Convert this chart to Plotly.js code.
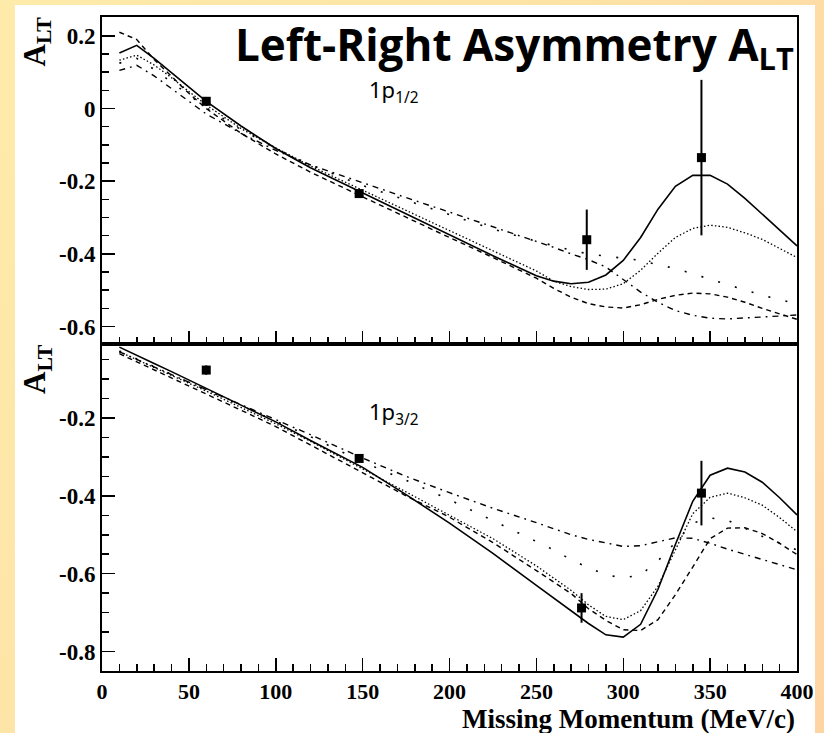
<!DOCTYPE html>
<html>
<head>
<meta charset="utf-8">
<script src="https://cdn.plot.ly/plotly-3.0.1.min.js"></script>
<style>
  html, body { margin:0; padding:0; width:824px; height:733px; overflow:hidden;
    background: linear-gradient(120deg, #FEEBAA 0%, #FDE3A6 45%, #FED4A4 100%); }
  #card { position:absolute; left:15px; top:5px; width:800px; height:728px; background:#ffffff; }
  #plot { position:absolute; left:0; top:0; width:824px; height:733px; }
</style>
</head>
<body>
<div id="card"></div>
<div id="plot"></div>
<script>
// ---- data ----
var momentum = [10,20,30,40,50,60,80,100,120,150,175,200,225,250,260,270,280,290,300,310,320,330,340,350,360,370,380,390,400];

// 1p1/2 (top panel)
var p12Solid   = [0.153,0.174,0.138,0.098,0.058,0.020,-0.048,-0.110,-0.163,-0.232,-0.290,-0.348,-0.405,-0.460,-0.475,-0.482,-0.478,-0.458,-0.418,-0.355,-0.277,-0.214,-0.184,-0.184,-0.208,-0.247,-0.290,-0.334,-0.378];
var p12Dotted  = [0.133,0.147,0.120,0.085,0.047,0.010,-0.055,-0.108,-0.158,-0.225,-0.280,-0.336,-0.393,-0.447,-0.475,-0.490,-0.498,-0.497,-0.482,-0.445,-0.398,-0.355,-0.330,-0.321,-0.327,-0.342,-0.360,-0.385,-0.410];
var p12Sparse  = [0.125,0.138,0.108,0.072,0.036,0.002,-0.058,-0.110,-0.155,-0.212,-0.252,-0.293,-0.332,-0.365,-0.378,-0.390,-0.400,-0.406,-0.412,-0.418,-0.430,-0.440,-0.455,-0.470,-0.485,-0.500,-0.514,-0.526,-0.537];
var p12Dashed  = [0.210,0.190,0.135,0.088,0.042,0.000,-0.068,-0.125,-0.175,-0.243,-0.300,-0.355,-0.410,-0.467,-0.495,-0.519,-0.537,-0.546,-0.549,-0.540,-0.525,-0.514,-0.508,-0.510,-0.519,-0.533,-0.550,-0.565,-0.580];
var p12DashDot = [0.105,0.119,0.090,0.055,0.020,-0.015,-0.068,-0.115,-0.155,-0.205,-0.245,-0.285,-0.325,-0.365,-0.382,-0.400,-0.416,-0.436,-0.470,-0.505,-0.533,-0.556,-0.569,-0.577,-0.579,-0.577,-0.574,-0.571,-0.568];
var p12DataX   = [60,148,279,345];
var p12DataY   = [0.020,-0.234,-0.361,-0.135];
var p12DataErr = [0.012,0.012,0.083,0.214];

// 1p3/2 (bottom panel)
var p32Solid   = [-0.018,-0.040,-0.060,-0.081,-0.102,-0.124,-0.167,-0.210,-0.258,-0.327,-0.397,-0.470,-0.548,-0.630,-0.662,-0.695,-0.728,-0.757,-0.763,-0.730,-0.640,-0.525,-0.414,-0.347,-0.329,-0.339,-0.365,-0.405,-0.449];
var p32Dotted  = [-0.030,-0.050,-0.070,-0.090,-0.110,-0.131,-0.173,-0.215,-0.260,-0.330,-0.390,-0.450,-0.510,-0.580,-0.612,-0.643,-0.680,-0.710,-0.718,-0.695,-0.632,-0.539,-0.446,-0.404,-0.393,-0.405,-0.424,-0.456,-0.492];
var p32Sparse  = [-0.028,-0.048,-0.068,-0.088,-0.107,-0.127,-0.167,-0.207,-0.248,-0.313,-0.360,-0.410,-0.463,-0.517,-0.539,-0.564,-0.585,-0.603,-0.611,-0.603,-0.567,-0.520,-0.470,-0.457,-0.463,-0.483,-0.504,-0.521,-0.539];
var p32Dashed  = [-0.035,-0.056,-0.077,-0.098,-0.118,-0.139,-0.180,-0.222,-0.270,-0.342,-0.400,-0.455,-0.520,-0.592,-0.622,-0.651,-0.690,-0.720,-0.744,-0.746,-0.718,-0.654,-0.583,-0.510,-0.483,-0.482,-0.497,-0.522,-0.551];
var p32DashDot = [-0.030,-0.050,-0.070,-0.090,-0.108,-0.127,-0.165,-0.203,-0.243,-0.303,-0.350,-0.392,-0.432,-0.469,-0.485,-0.500,-0.512,-0.522,-0.530,-0.528,-0.518,-0.508,-0.509,-0.522,-0.537,-0.550,-0.564,-0.577,-0.590];
var p32DataX   = [60,148,276,345];
var p32DataY   = [-0.077,-0.304,-0.688,-0.393];
var p32DataErr = [0.012,0.010,0.038,0.083];

// tick labels
var xTickVals = [0,50,100,150,200,250,300,350,400];
var xTickText = ['0','50','100','150','200','250','300','350','400'];
var topTickVals = [0.2,0,-0.2,-0.4,-0.6];
var topTickText = ['0.2','0','-0.2','-0.4','-0.6'];
var botTickVals = [-0.2,-0.4,-0.6,-0.8];
var botTickText = ['-0.2','-0.4','-0.6','-0.8'];

// ---- traces ----
var styles = [
  {dash:'solid',             width:1.6},
  {dash:'1.5px,2.2px',       width:1.3},
  {dash:'2px,15.5px',        width:1.6},
  {dash:'5px,4px',           width:1.4},
  {dash:'6px,5px,1.8px,5px', width:1.4}
];
var topSeries = [p12Solid,p12Dotted,p12Sparse,p12Dashed,p12DashDot];
var botSeries = [p32Solid,p32Dotted,p32Sparse,p32Dashed,p32DashDot];
var traces = [];
topSeries.forEach(function(s,i){
  traces.push({x:momentum, y:s, xaxis:'x2', yaxis:'y2', type:'scatter', mode:'lines',
    line:{color:'black', width:styles[i].width, dash:styles[i].dash}, hoverinfo:'skip'});
});
botSeries.forEach(function(s,i){
  traces.push({x:momentum, y:s, xaxis:'x', yaxis:'y', type:'scatter', mode:'lines',
    line:{color:'black', width:styles[i].width, dash:styles[i].dash}, hoverinfo:'skip'});
});
traces.push({x:p12DataX, y:p12DataY, xaxis:'x2', yaxis:'y2', type:'scatter', mode:'markers',
  marker:{symbol:'square', size:9, color:'black'},
  error_y:{type:'data', array:p12DataErr, visible:true, width:0, thickness:2, color:'black'}});
traces.push({x:p32DataX, y:p32DataY, xaxis:'x', yaxis:'y', type:'scatter', mode:'markers',
  marker:{symbol:'square', size:9, color:'black'},
  error_y:{type:'data', array:p32DataErr, visible:true, width:0, thickness:2, color:'black'}});

var tickFont = {family:'Liberation Serif, Times New Roman, serif', size:23, color:'black', weight:'bold'};
var xTickFont = {family:'Liberation Serif, Times New Roman, serif', size:22, color:'black', weight:'bold'};
var axisCommon = {showline:true, linecolor:'black', linewidth:2, mirror:true, showgrid:false, zeroline:false,
  ticks:'inside', ticklen:13, tickwidth:1.5, tickcolor:'black', tickmode:'array', tickfont:tickFont};
var minorX = {tickmode:'linear', tick0:0, dtick:10, ticks:'inside', ticklen:7, tickwidth:1.5, tickcolor:'black'};
var minorY = {tickmode:'linear', tick0:0, dtick:0.05, ticks:'inside', ticklen:7, tickwidth:1.5, tickcolor:'black'};

var layout = {
  width:824, height:733,
  margin:{l:102, r:27, t:17, b:62},
  paper_bgcolor:'rgba(0,0,0,0)', plot_bgcolor:'rgba(0,0,0,0)',
  showlegend:false,
  xaxis: Object.assign({}, axisCommon, {anchor:'y', range:[0,400], tickvals:xTickVals, ticktext:xTickText,
    tickfont:xTickFont, minor:minorX}),
  xaxis2: Object.assign({}, axisCommon, {anchor:'y2', matches:'x', range:[0,400], tickvals:xTickVals, ticktext:xTickText,
    showticklabels:false, minor:minorX}),
  yaxis: Object.assign({}, axisCommon, {domain:[0,0.5], range:[-0.85,-0.01], tickvals:botTickVals, ticktext:botTickText, minor:minorY}),
  yaxis2: Object.assign({}, axisCommon, {domain:[0.5,1], range:[-0.648,0.252], tickvals:topTickVals, ticktext:topTickText, minor:minorY}),
  annotations: [
    {text:'Left-Right Asymmetry A<sub>LT</sub>', xref:'paper', yref:'paper', x:0.998, y:(671-47)/654,
     xanchor:'right', yanchor:'middle', showarrow:false,
     font:{family:'Open Sans, DejaVu Sans, sans-serif', size:44, color:'black', weight:'bold'}},
    {text:'1p<sub>1/2</sub>', xref:'paper', yref:'paper', x:(393-102)/695, y:(671-91)/654,
     xanchor:'center', yanchor:'middle', showarrow:false,
     font:{family:'Noto Sans, sans-serif', size:22, color:'black'}},
    {text:'1p<sub>3/2</sub>', xref:'paper', yref:'paper', x:(393-102)/695, y:(671-413)/654,
     xanchor:'center', yanchor:'middle', showarrow:false,
     font:{family:'Noto Sans, sans-serif', size:22, color:'black'}},
    {text:'A<sub>LT</sub>', xref:'paper', yref:'paper', x:(37-102)/695, y:(671-41.5)/654,
     xanchor:'center', yanchor:'middle', textangle:-90, showarrow:false,
     font:{family:'Liberation Serif, Times New Roman, serif', size:31, color:'black', weight:'bold'}},
    {text:'A<sub>LT</sub>', xref:'paper', yref:'paper', x:(37-102)/695, y:(671-369)/654,
     xanchor:'center', yanchor:'middle', textangle:-90, showarrow:false,
     font:{family:'Liberation Serif, Times New Roman, serif', size:31, color:'black', weight:'bold'}},
    {text:'Missing Momentum (MeV/c)', xref:'paper', yref:'paper', x:1, y:(671-719)/654,
     xanchor:'right', yanchor:'middle', showarrow:false,
     font:{family:'Liberation Serif, Times New Roman, serif', size:27, color:'black', weight:'bold'}}
  ]
};

Plotly.newPlot('plot', traces, layout, {staticPlot:true, displayModeBar:false});
</script>
</body>
</html>
